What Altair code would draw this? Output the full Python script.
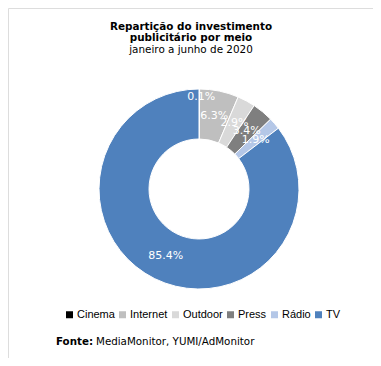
import altair as alt
import pandas as pd

categories = ["Cinema", "Internet", "Outdoor", "Press", "Rádio", "TV"]
values = [0.1, 6.3, 2.9, 3.4, 1.9, 85.4]
colors = ["#000000", "#bfbfbf", "#d9d9d9", "#7f7f7f", "#b4c7e7", "#4f81bd"]
title_bold = ["Repartição do investimento", "publicitário por meio"]
subtitle = ["janeiro a junho de 2020"]
source_bold = "Fonte:"
source_text = "MediaMonitor, YUMI/AdMonitor"

df = pd.DataFrame({"cat": categories, "value": values, "idx": list(range(len(categories)))})

CX, CY = 191, 181

base = alt.Chart(df).transform_calculate(
    label="format(datum.value, '.1f') + '%'"
)

theta = alt.Theta("value:Q", stack=True)
order = alt.Order("idx:Q", sort="ascending")

arcs = base.mark_arc(innerRadius=50, outerRadius=100, stroke="white", strokeWidth=1).encode(
    theta=theta,
    order=order,
    x=alt.value(CX), y=alt.value(CY),
    color=alt.Color("cat:N", scale=alt.Scale(domain=categories, range=colors),
                    sort=categories,
                    legend=alt.Legend(title=None, orient="none", direction="horizontal",
                                      legendX=56, legendY=301, symbolType="square",
                                      symbolSize=49, symbolStrokeWidth=0,
                                      labelFont="Liberation Sans", labelFontSize=11,
                                      labelColor="#000000", gridAlign="each",
                                      columnPadding=2, labelOffset=2, columns=6)),
)

def lbl(r, cond, dx=0, dy=0):
    return base.mark_text(radius=r, fill="white", font="DejaVu Sans", fontSize=11, dx=dx, dy=dy).encode(
        theta=theta, order=order,
        x=alt.value(CX), y=alt.value(CY),
        text="label:N",
        opacity=alt.condition(cond, alt.value(1), alt.value(0)),
    )

lab_mid = lbl(75, "datum.cat != 'Cinema'")
lab_cin = lbl(92, "datum.cat == 'Cinema'", dx=2)

t1 = alt.Chart(pd.DataFrame({"t": [title_bold[0]]})).mark_text(
    font="DejaVu Sans", fontSize=10.4, fontWeight="bold", color="#000000", baseline="alphabetic").encode(
    x=alt.value(183), y=alt.value(22), text="t:N")
t2 = alt.Chart(pd.DataFrame({"t": [title_bold[1]]})).mark_text(
    font="DejaVu Sans", fontSize=10.4, fontWeight="bold", color="#000000", baseline="alphabetic").encode(
    x=alt.value(183), y=alt.value(33), text="t:N")
t3 = alt.Chart(pd.DataFrame({"t": subtitle})).mark_text(
    font="DejaVu Sans", fontSize=10.4, color="#000000", baseline="alphabetic").encode(
    x=alt.value(183), y=alt.value(44.5), text="t:N")

fdf = pd.DataFrame({"b": [source_bold], "t": [source_text]})
f1 = alt.Chart(fdf).mark_text(font="DejaVu Sans", fontSize=10.3, fontWeight="bold", align="left", baseline="alphabetic", color="#000000").encode(
    x=alt.value(48), y=alt.value(337), text="b:N")
f2 = alt.Chart(fdf).mark_text(font="DejaVu Sans", fontSize=10.3, align="left", baseline="alphabetic", color="#000000").encode(
    x=alt.value(88), y=alt.value(337), text="t:N")

chart = alt.layer(arcs, lab_mid, lab_cin, t1, t2, t3, f1, f2).properties(
    width=365, height=350, autosize=alt.AutoSizeParams(type="none"), padding=0
).configure_view(stroke=None).configure(background="white")

chart.save("out.html", embed_options={"renderer": "svg", "actions": False})
